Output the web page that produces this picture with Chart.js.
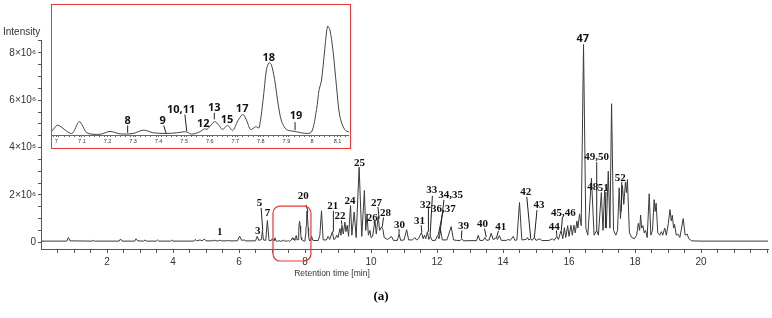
<!DOCTYPE html>
<html lang="en">
<head>
<meta charset="UTF-8">
<script src="https://cdn.jsdelivr.net/npm/chart.js@4.4.1/dist/chart.umd.min.js"></script>
<title>Chromatogram</title>
<style>
  body { margin: 0; background: #fff; }
  #wrap { position: relative; width: 772px; height: 318px; }
  #inset { position: absolute; left: 51px; top: 4px; width: 300px; height: 145px;
           border: 1.5px solid #e53935; box-sizing: border-box; background: #fff; }
  #inset canvas { display: block; }
</style>
</head>
<body>
<div id="wrap">
  <canvas id="mainChart" width="772" height="318"></canvas>
  <div id="inset"><canvas id="insetChart" width="297" height="142"></canvas></div>
</div>

<script>
// retention time [min] and intensity [x10^6]
const retentionTime = [
  0, 0.78, 0.83, 0.88, 1.55, 1.58, 1.62, 2.37, 2.41, 2.46, 2.84, 2.88, 2.93, 3.11, 3.15, 3.19,
  3.49, 3.53, 3.57, 3.92, 3.96, 4.0, 4.63, 4.67, 4.72, 4.82, 4.88, 4.95, 5.0, 5.2, 5.25, 5.3,
  5.38, 5.42, 5.47, 5.6, 5.65, 5.7, 5.95, 6.02, 6.08, 6.15, 6.2, 6.5, 6.55, 6.6, 6.68, 6.71, 6.74, 6.81, 6.86, 6.91,
  6.98, 7.005, 7.06, 7.09, 7.12, 7.17, 7.21, 7.25, 7.3, 7.34, 7.38, 7.43, 7.47, 7.5, 7.51, 7.53,
  7.56, 7.58, 7.59, 7.605, 7.62, 7.635, 7.65, 7.67, 7.69, 7.71, 7.73, 7.745, 7.76, 7.78,
  7.793, 7.809, 7.822, 7.832, 7.841, 7.854, 7.867, 7.881, 7.9, 7.92, 7.94, 7.97, 7.998,
  8.018, 8.028, 8.037, 8.05, 8.061, 8.07, 8.082, 8.096, 8.109, 8.128, 8.148,
  8.17, 8.2, 8.24, 8.4, 8.45, 8.5, 8.55, 8.65, 8.7, 8.75, 8.83, 8.87, 8.92, 8.96, 9.0, 9.06, 9.09,
  9.12, 9.16, 9.21, 9.24, 9.28, 9.32, 9.38, 9.42, 9.49, 9.55, 9.64, 9.72, 9.8, 9.84, 9.88, 9.92, 9.97,
  10.0, 10.05, 10.12, 10.16, 10.22, 10.26, 10.32, 10.36, 10.4, 10.5, 10.62, 10.68, 10.8, 10.85, 10.9, 11.0,
  11.08, 11.14, 11.25, 11.33, 11.38, 11.44, 11.53, 11.58, 11.62, 11.66, 11.71, 11.75, 11.8, 11.85, 11.95, 12.02,
  12.06, 12.11, 12.16, 12.3, 12.43, 12.5, 12.6, 12.7, 12.75, 12.8, 13.0, 13.2, 13.25, 13.3, 13.4, 13.45, 13.5,
  13.58, 13.64, 13.7, 13.76, 13.8, 13.83, 13.89, 13.95, 14.1, 14.16, 14.22, 14.31, 14.36, 14.42, 14.5, 14.57,
  14.7, 14.74, 14.78, 14.84, 14.88, 14.95, 15.0, 15.12, 15.18, 15.4, 15.5, 15.55, 15.63, 15.68, 15.76, 15.81,
  15.86, 15.9, 15.96, 16.0, 16.06, 16.1, 16.15, 16.19, 16.24, 16.27, 16.32, 16.37, 16.44, 16.51, 16.57,
  16.68, 16.76, 16.84, 16.89, 16.98, 17.03, 17.08, 17.13, 17.19, 17.24, 17.29, 17.35, 17.42, 17.47, 17.52, 17.56,
  17.62, 17.66, 17.71, 17.74, 17.77, 17.83, 17.9, 17.98, 18.05, 18.1, 18.14, 18.17, 18.2, 18.24, 18.28, 18.32,
  18.37, 18.43, 18.48, 18.53, 18.58, 18.61, 18.64, 18.69, 18.75, 18.8, 18.84, 18.9, 18.95, 19.01, 19.06, 19.1,
  19.13, 19.17, 19.2, 19.25, 19.3, 19.36, 19.46, 19.52, 19.58, 19.63, 19.72, 20.0, 22.05
];
const intensity = [
  0.05, 0.05, 0.2, 0.06, 0.05, 0.08, 0.05, 0.05, 0.14, 0.05, 0.05, 0.15, 0.06, 0.05, 0.1, 0.05,
  0.05, 0.1, 0.05, 0.05, 0.09, 0.05, 0.05, 0.12, 0.06, 0.1, 0.06, 0.14, 0.06, 0.06, 0.09, 0.06,
  0.06, 0.09, 0.06, 0.06, 0.08, 0.06, 0.06, 0.26, 0.08, 0.1, 0.06, 0.06, 0.25, 0.08, 0.12, 0.5, 0.1, 0.08, 0.92, 0.07,
  0.077, 0.148, 0.05, 0.19, 0.058, 0.04, 0.074, 0.046, 0.05, 0.09, 0.058, 0.05, 0.058, 0.07, 0.068, 0.042,
  0.068, 0.106, 0.1, 0.15, 0.19, 0.15, 0.097, 0.145, 0.085, 0.2, 0.275, 0.2, 0.097, 0.13,
  0.117, 0.452, 0.807, 0.887, 0.867, 0.689, 0.413, 0.196, 0.097, 0.08, 0.07, 0.052, 0.065,
  0.334, 0.57, 0.67, 1.04, 1.32, 1.28, 1.04, 0.61, 0.255, 0.097, 0.065,
  0.08, 0.25, 0.08, 0.07, 0.3, 1.33, 0.1, 0.1, 0.25, 0.12, 0.45, 0.12, 0.15, 0.3, 0.2, 0.58, 0.3,
  0.72, 0.35, 0.85, 0.45, 0.72, 0.25, 1.55, 0.3, 1.28, 0.2, 3.17, 0.25, 2.19, 0.5, 1.2, 0.3, 0.5,
  0.2, 0.25, 0.93, 0.35, 1.1, 0.5, 0.65, 0.55, 0.2, 0.12, 0.25, 0.08, 0.08, 0.35, 0.08, 0.1,
  0.53, 0.1, 0.1, 0.2, 0.1, 0.15, 0.42, 0.15, 0.3, 0.15, 0.45, 0.12, 0.25, 0.08, 0.08, 0.3,
  0.15, 0.5, 0.1, 0.1, 0.66, 0.1, 0.08, 0.07, 0.15, 0.06, 0.07, 0.07, 0.3, 0.08, 0.08, 0.2, 0.08,
  0.1, 0.38, 0.12, 0.15, 0.22, 0.12, 0.28, 0.08, 0.08, 0.12, 0.08, 0.25, 0.08, 0.1, 1.68, 0.1,
  0.12, 0.2, 0.1, 0.15, 0.08, 0.2, 0.08, 0.15, 0.07, 0.08, 0.15, 0.08, 0.25, 0.12, 0.5, 0.15,
  0.62, 0.2, 0.7, 0.25, 0.72, 0.3, 0.72, 0.4, 0.9, 0.6, 1.2, 0.7, 8.35, 0.6, 0.3,
  2.7, 0.3, 0.5, 0.3, 2.1, 0.5, 2.2, 0.6, 3.0, 0.6, 5.85, 0.5, 0.3, 0.5, 2.3, 1.0,
  2.4, 1.6, 2.55, 2.1, 2.65, 0.4, 0.2, 0.15, 0.3, 0.8, 0.5, 1.15, 0.6, 0.7, 0.4, 0.5,
  0.2, 2.05, 0.3, 0.5, 1.8, 1.3, 1.65, 0.4, 0.3, 0.45, 0.3, 0.6, 0.3, 0.8, 1.38, 0.9,
  1.14, 0.6, 0.75, 0.3, 0.35, 0.2, 1.0, 0.3, 0.35, 0.15, 0.06, 0.05, 0.05
];

// peak numbers on the main trace: text centre and leader line [t1, i1, t2, i2]
const peakNames = ['1', '3', '5', '7', '20', '21', '22', '24', '25', '26', '27', '28', '30', '31', '32',
  '33', '34,35', '36,37', '39', '40', '41', '42', '43', '44', '45,46', '47', '48', '49,50', '51', '52'];
const peakLabelTime = [5.42, 6.57, 6.62, 6.86, 7.95, 8.84, 9.06, 9.36, 9.65, 10.04, 10.17, 10.44, 10.86, 11.47, 11.65,
  11.84, 12.41, 12.19, 12.8, 13.38, 13.93, 14.69, 15.09, 15.55, 15.83, 16.42, 16.72, 16.84, 17.04, 17.55];
const peakLabelLevel = [0.41, 0.48, 1.66, 1.21, 1.94, 1.52, 1.1, 1.74, 3.35, 1.04, 1.66, 1.21, 0.72, 0.9, 1.57,
  2.18, 1.98, 1.39, 0.67, 0.75, 0.65, 2.12, 1.56, 0.65, 1.25, 8.6, 2.32, 3.6, 2.3, 2.7];
const peakLeaders = [null, null, [6.67, 1.45, 6.72, 0.5], null, [8.03, 1.58, 8.09, 1.3], [8.86, 1.33, 8.86, 0.45],
  [9.1, 0.92, 9.12, 0.74], null, null, [10.09, 0.88, 10.11, 0.75], [10.21, 1.49, 10.25, 1.0], [10.38, 1.05, 10.34, 0.65],
  [10.85, 0.56, 10.85, 0.36], [11.52, 0.72, 11.54, 0.43], [11.74, 1.44, 11.74, 0.45], [11.86, 1.96, 11.79, 0.25],
  [12.21, 1.79, 12.09, 0.38], [12.17, 1.22, 12.04, 0.31], [12.75, 0.5, 12.74, 0.17], [13.44, 0.58, 13.49, 0.22],
  [13.86, 0.48, 13.81, 0.22], [14.72, 1.92, 14.84, 0.16], [15.03, 1.36, 14.95, 0.2], [15.62, 0.5, 15.63, 0.27],
  [15.8, 1.07, 15.77, 0.52], null, null, [16.84, 3.38, 16.84, 0.5], [17.12, 2.12, 17.1, 0.6], [17.6, 2.55, 17.58, 1.3]];

// peak numbers in the zoomed window
const insetNames = ['8', '9', '10,11', '12', '13', '15', '17', '18', '19'];
const insetLabelTime = [7.279, 7.416, 7.488, 7.575, 7.618, 7.668, 7.727, 7.831, 7.938];
const insetLabelLevel = [0.196, 0.196, 0.334, 0.168, 0.354, 0.216, 0.342, 0.946, 0.255];
const insetLeaders = [[7.279, 0.145, 7.279, 0.058], [7.42, 0.145, 7.43, 0.05], [7.503, 0.275, 7.51, 0.077], null,
  [7.618, 0.295, 7.618, 0.216], null, null, null, [7.934, 0.184, 7.934, 0.089]];

const xTickLabels = [2, 4, 6, 8, 10, 12, 14, 16, 18, 20];
const yTickLabels = [0, 2, 4, 6, 8];
const insetTickLabels = [7, 7.1, 7.2, 7.3, 7.4, 7.5, 7.6, 7.7, 7.8, 7.9, 8, 8.1];

// red marker round the zoomed window on the main trace
const zoomBoxTime = [7.03, 8.18];
const zoomBoxLevel = [-0.79, 1.53];

if (retentionTime.length !== intensity.length) console.error('length mismatch', retentionTime.length, intensity.length);

const trace = retentionTime.map((t, k) => ({ x: t, y: intensity[k] }));

const sans = "'Liberation Sans', Arial, sans-serif";
const boldSans = "'Open Sans', 'Liberation Sans', sans-serif";
const serif = "'Liberation Serif', 'Times New Roman', serif";

function steps(from, to, step) {
  const out = [];
  for (let v = from; v <= to + 1e-9; v += step) out.push(Math.round(v * 1000) / 1000);
  return out;
}

const peakLabels = {
  id: 'peakLabels',
  afterDatasetsDraw(chart, args, opts) {
    const { ctx, scales: { x, y } } = chart;
    ctx.save();
    ctx.strokeStyle = '#222';
    ctx.fillStyle = '#111';
    ctx.lineWidth = 1;
    ctx.textAlign = 'center';
    ctx.textBaseline = 'middle';
    opts.names.forEach((name, k) => {
      const l = opts.leaders[k];
      if (l) {
        ctx.beginPath();
        ctx.moveTo(x.getPixelForValue(l[0]), y.getPixelForValue(l[1]));
        ctx.lineTo(x.getPixelForValue(l[2]), y.getPixelForValue(l[3]));
        ctx.stroke();
      }
      ctx.font = (opts.sansNames && opts.sansNames.includes(name)) ? opts.altFont : opts.font;
      ctx.fillText(name, x.getPixelForValue(opts.times[k]), y.getPixelForValue(opts.levels[k]));
    });
    ctx.restore();
  }
};

const mainDecor = {
  id: 'mainDecor',
  afterDraw(chart) {
    const { ctx, scales: { x, y } } = chart;
    ctx.save();
    // zoom window marker
    const x0 = x.getPixelForValue(zoomBoxTime[0]), x1 = x.getPixelForValue(zoomBoxTime[1]);
    const y0 = y.getPixelForValue(zoomBoxLevel[1]), y1 = y.getPixelForValue(zoomBoxLevel[0]);
    ctx.strokeStyle = '#e53935';
    ctx.lineWidth = 1.2;
    ctx.beginPath();
    ctx.roundRect(x0, y0, x1 - x0, y1 - y0, 7);
    ctx.stroke();
    // axis titles and panel letter
    ctx.fillStyle = '#333';
    ctx.textBaseline = 'middle';
    ctx.font = '10px ' + sans;
    ctx.textAlign = 'left';
    ctx.fillText('Intensity', 3, 32);
    ctx.textAlign = 'center';
    ctx.font = '8.5px ' + sans;
    ctx.fillText('Retention time [min]', 332, 274);
    ctx.fillStyle = '#000';
    ctx.font = 'bold 13px ' + serif;
    ctx.fillText('(a)', 381, 297);
    ctx.restore();
  }
};

new Chart(document.getElementById('mainChart'), {
  type: 'line',
  data: {
    datasets: [{
      data: trace,
      borderColor: '#3a3a3a',
      borderWidth: 1,
      pointRadius: 0,
      tension: 0,
      fill: false
    }]
  },
  options: {
    responsive: false,
    animation: false,
    layout: { padding: { top: 40, right: 4, left: 0, bottom: 0 } },
    plugins: {
      legend: { display: false },
      tooltip: { enabled: false },
      peakLabels: {
        names: peakNames, times: peakLabelTime, levels: peakLabelLevel, leaders: peakLeaders,
        font: 'bold 11px ' + serif, altFont: 'bold 11px ' + boldSans, sansNames: ['47']
      }
    },
    scales: {
      x: {
        type: 'linear', min: 0, max: 22.03,
        afterFit: s => { s.height = 69; },
        afterBuildTicks: s => { s.ticks = steps(0.5, 22, 0.5).map(v => ({ value: v })); },
        ticks: {
          autoSkip: false, maxRotation: 0, padding: 3, color: '#333',
          font: { family: sans, size: 10 },
          callback: v => xTickLabels.includes(v) ? String(v) : ''
        },
        grid: { drawOnChartArea: false, tickLength: 4, color: '#555' },
        border: { color: '#555' }
      },
      y: {
        type: 'linear', min: -0.283, max: 8.54,
        afterFit: s => { s.width = 41; },
        afterBuildTicks: s => { s.ticks = steps(0, 8.5, 0.5).map(v => ({ value: v })); },
        ticks: {
          autoSkip: false, padding: 2, color: '#333',
          font: { family: sans, size: 10 },
          callback: v => yTickLabels.includes(v) ? (v === 0 ? '0' : v + '×10⁶') : ''
        },
        grid: { drawOnChartArea: false, tickLength: 3, color: '#555' },
        border: { color: '#555' }
      }
    }
  },
  plugins: [peakLabels, mainDecor]
});

new Chart(document.getElementById('insetChart'), {
  type: 'line',
  data: {
    datasets: [{
      data: trace,
      borderColor: '#444',
      borderWidth: 1,
      pointRadius: 0,
      tension: 0.3,
      fill: false
    }]
  },
  options: {
    responsive: false,
    animation: false,
    layout: { padding: 0 },
    plugins: {
      legend: { display: false },
      tooltip: { enabled: false },
      peakLabels: {
        names: insetNames, times: insetLabelTime, levels: insetLabelLevel, leaders: insetLeaders,
        font: 'bold 11px ' + boldSans
      }
    },
    scales: {
      x: {
        type: 'linear', min: 6.983, max: 8.145,
        afterFit: s => { s.height = 12; },
        afterBuildTicks: s => { s.ticks = steps(6.99, 8.14, 0.02).concat(insetTickLabels).map(v => ({ value: v })); },
        ticks: {
          autoSkip: false, maxRotation: 0, padding: 1, color: '#333',
          font: { family: sans, size: 5.5 },
          callback: v => insetTickLabels.some(l => Math.abs(l - v) < 1e-6) ? String(v) : ''
        },
        grid: { drawOnChartArea: false, tickLength: 2, color: '#666' },
        border: { color: '#666' }
      },
      y: { display: false, min: 0.032, max: 1.571 }
    }
  },
  plugins: [peakLabels]
});
</script>
</body>
</html>
